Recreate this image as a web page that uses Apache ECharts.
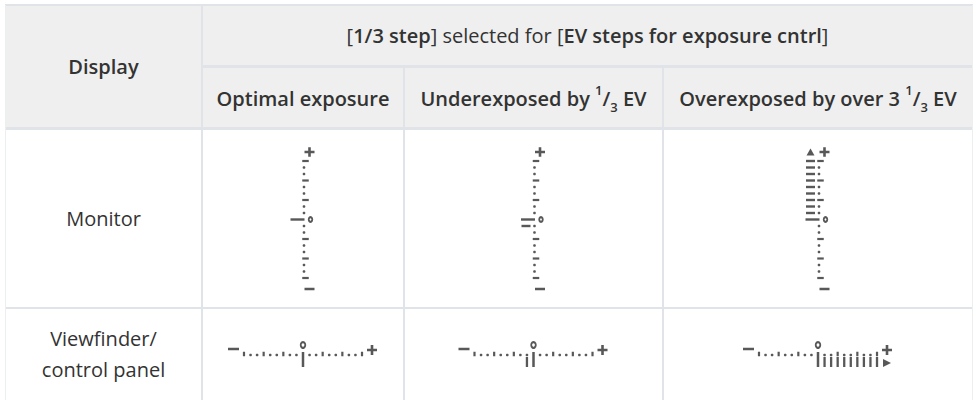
<!DOCTYPE html>
<html><head><meta charset="utf-8">
<script src="https://cdn.jsdelivr.net/npm/echarts@6/dist/echarts.min.js"></script>
<style>html,body{margin:0;padding:0;background:#fff}#c{width:974px;height:400px}</style>
</head><body><div id="c"></div>
<script>
// ---------------- data ----------------
const rowHeader = 'Display';
const groupHeader = '[{b|1/3 step}] selected for [{b|EV steps for exposure cntrl}]';
const columnHeaders = [
  'Optimal exposure',
  'Underexposed by {sup|1}/{sub|3} EV',
  'Overexposed by over 3 {sup|1}/{sub|3} EV'
];
const rowLabels = ['Monitor', 'Viewfinder/\ncontrol panel'];
// indicator scale positions, in thirds of an EV (-3 EV ... +3 EV)
const scaleThirds = [-9,-8,-7,-6,-5,-4,-3,-2,-1,0,1,2,3,4,5,6,7,8,9];
// lit indicator segments for each column, in thirds of an EV
const litThirds = [[0], [0,-1], [0,1,2,3,4,5,6,7,8,9]];
// "beyond range" arrow shown
const overRange = [false, false, true];

// ---------------- layout (style only) ----------------
const FONT = '"Open Sans", "Noto Sans", sans-serif';
const FS = 20;
const TXT = '#333333';
const INK = '#2e2e2e';
const LINE = '#e0e3e7';
const HEAD_BG = '#efefef';
const colEdges = [5, 202, 404, 663, 973];
const rowEdges = [5, 66.5, 128.5, 308, 400];
const colCenter = i => (colEdges[i + 1] + colEdges[i + 2]) / 2;
const MON_EV = 19.5, VF_EV = 19.67;
const PLUS = 'path://M3.7,0h2.6v3.7h3.7v2.6h-3.7v3.7h-2.6v-3.7h-3.7v-2.6h3.7z';

const grids = [], xAxes = [], yAxes = [], series = [];

function addMonitor(i) {
  const gi = grids.length;
  const T = colCenter(i) + 2.5;
  grids.push({left: T - 20, width: 40, top: 161 - MON_EV, height: MON_EV * 8});
  xAxes.push({gridIndex: gi, type: 'value', min: -1, max: 1, show: false});
  yAxes.push({gridIndex: gi, type: 'value', min: -4, max: 4, show: false});
  const ax = {xAxisIndex: gi, yAxisIndex: gi, silent: true, itemStyle: {color: INK}};
  const minor = scaleThirds.filter(t => t % 3 !== 0).map(t => [0, t / 3]);
  const major = scaleThirds.filter(t => t % 3 === 0 && t !== 0).map(t => [0, t / 3]);
  const lit = litThirds[i].filter(t => t !== 0).map(t => [0, t / 3]);
  const zero = litThirds[i].filter(t => t === 0).map(t => [0, 0]);
  const top = [[0, Math.max(...scaleThirds) / 3]];
  const bottom = [[0, Math.min(...scaleThirds) / 3]];
  series.push(
    Object.assign({type: 'scatter', data: minor, symbol: 'circle', symbolSize: 2.7, symbolOffset: [-1.5, 0]}, ax),
    Object.assign({type: 'scatter', data: major, symbol: 'rect', symbolSize: [6.5, 2.2]}, ax),
    Object.assign({type: 'scatter', data: lit, symbol: 'rect', symbolSize: [9, 2.4], symbolOffset: [-10, 0]}, ax),
    Object.assign({type: 'scatter', data: zero, symbol: 'rect', symbolSize: [14, 2.4], symbolOffset: [-8, 0]}, ax),
    Object.assign({type: 'scatter', data: [[0, 0]], symbol: 'emptyCircle', symbolSize: [3.6, 4.6], symbolOffset: [5, 0]}, ax,
      {itemStyle: {color: INK, borderColor: INK, borderWidth: 1.3}}),
    Object.assign({type: 'scatter', data: top, symbol: PLUS, symbolSize: [10, 9.5], symbolOffset: [4, -9]}, ax),
    Object.assign({type: 'scatter', data: bottom, symbol: 'rect', symbolSize: [10, 2.5], symbolOffset: [4, 11]}, ax)
  );
  if (overRange[i]) {
    series.push(Object.assign({type: 'scatter', data: top, symbol: 'triangle', symbolSize: [8, 7], symbolOffset: [-10, -9]}, ax));
  }
}

function addViewfinder(i) {
  const gi = grids.length;
  const Z = colCenter(i);
  const lineY = 354;
  grids.push({left: Z - 4 * VF_EV, width: 8 * VF_EV, top: lineY - 20, height: 40});
  xAxes.push({gridIndex: gi, type: 'value', min: -4, max: 4, show: false});
  yAxes.push({gridIndex: gi, type: 'value', min: -1, max: 1, show: false});
  const ax = {xAxisIndex: gi, yAxisIndex: gi, silent: true, itemStyle: {color: INK}};
  const minor = scaleThirds.filter(t => t % 3 !== 0).map(t => [t / 3, 0]);
  const major = scaleThirds.filter(t => t % 3 === 0 && t !== 0).map(t => [t / 3, 0]);
  const lit = litThirds[i].filter(t => t !== 0).map(t => [t / 3, 0]);
  const zero = litThirds[i].filter(t => t === 0).map(t => [0, 0]);
  const right = [[Math.max(...scaleThirds) / 3, 0]];
  const left = [[Math.min(...scaleThirds) / 3, 0]];
  series.push(
    Object.assign({type: 'scatter', data: minor, symbol: 'circle', symbolSize: 2.7, symbolOffset: [0, 1]}, ax),
    Object.assign({type: 'scatter', data: major, symbol: 'rect', symbolSize: [2.2, 4.5]}, ax),
    Object.assign({type: 'scatter', data: lit, symbol: 'rect', symbolSize: [2.3, 10], symbolOffset: [0, 8]}, ax),
    Object.assign({type: 'scatter', data: zero, symbol: 'rect', symbolSize: [2.5, 15], symbolOffset: [0, 5.5]}, ax),
    Object.assign({type: 'scatter', data: [[0, 0]], symbol: 'emptyCircle', symbolSize: [4.6, 5.6], symbolOffset: [0, -9]}, ax,
      {itemStyle: {color: INK, borderColor: INK, borderWidth: 1.5}}),
    Object.assign({type: 'scatter', data: right, symbol: PLUS, symbolSize: [10, 10], symbolOffset: [10, -4]}, ax),
    Object.assign({type: 'scatter', data: left, symbol: 'rect', symbolSize: [11, 2.5], symbolOffset: [-10.5, -5]}, ax)
  );
  if (overRange[i]) {
    series.push(Object.assign({type: 'scatter', data: right, symbol: 'triangle', symbolSize: [8, 8], symbolRotate: -90, symbolOffset: [10, 9]}, ax));
  }
}

for (let i = 0; i < columnHeaders.length; i++) addMonitor(i);
for (let i = 0; i < columnHeaders.length; i++) addViewfinder(i);

// ---------------- table graphics ----------------
function line(x1, y1, x2, y2, w, c) {
  return {type: 'line', silent: true, z: 1, shape: {x1, y1, x2, y2}, style: {stroke: c || LINE, lineWidth: w}};
}
function text(x, y, str, extra) {
  return {type: 'text', silent: true, z: 5, x, y,
    style: Object.assign({text: str, fill: TXT, fontFamily: FONT, fontSize: FS, fontWeight: 'normal',
      align: 'center', verticalAlign: 'middle'}, extra)};
}
const supsub = {
  sup: {fontFamily: FONT, fontSize: 13, fontWeight: 600, fill: TXT, verticalAlign: 'top', lineHeight: 20},
  sub: {fontFamily: FONT, fontSize: 13, fontWeight: 600, fill: TXT, verticalAlign: 'bottom', lineHeight: 20}
};
const L = colEdges[0], R = colEdges[4];
const graphic = [
  {type: 'rect', silent: true, z: 0, shape: {x: L, y: rowEdges[0], width: R - L, height: rowEdges[2] - rowEdges[0]}, style: {fill: HEAD_BG}},
  line(L, rowEdges[0], R, rowEdges[0], 2),
  line(colEdges[1], rowEdges[1], R, rowEdges[1], 3),
  line(L, rowEdges[2], R, rowEdges[2], 3),
  line(L, rowEdges[3], R, rowEdges[3], 2),
  line(colEdges[1], rowEdges[0], colEdges[1], rowEdges[4], 2),
  line(colEdges[2], rowEdges[1], colEdges[2], rowEdges[4], 2),
  line(colEdges[3], rowEdges[1], colEdges[3], rowEdges[4], 2),
  line(L + 0.5, rowEdges[0], L + 0.5, rowEdges[4], 1, '#eceef0'),
  line(R - 0.5, rowEdges[0], R - 0.5, rowEdges[4], 1, '#eceef0'),
  text((colEdges[0] + colEdges[1]) / 2, (rowEdges[0] + rowEdges[2]) / 2, rowHeader, {fontWeight: 600}),
  text((colEdges[1] + colEdges[4]) / 2, (rowEdges[0] + rowEdges[1]) / 2, groupHeader,
    {rich: {b: {fontFamily: FONT, fontSize: FS, fontWeight: 600, fill: TXT}}}),
  text((colEdges[0] + colEdges[1]) / 2, (rowEdges[2] + rowEdges[3]) / 2, rowLabels[0]),
  text((colEdges[0] + colEdges[1]) / 2, (rowEdges[3] + rowEdges[4]) / 2, rowLabels[1], {lineHeight: 31})
];
columnHeaders.forEach((h, i) => {
  graphic.push(text(colCenter(i), (rowEdges[1] + rowEdges[2]) / 2 + 0.5, h,
    {fontWeight: 600, lineHeight: 30, rich: supsub}));
});

const chart = echarts.init(document.getElementById('c'), null, {renderer: 'svg'});
chart.setOption({
  animation: false,
  backgroundColor: '#ffffff',
  grid: grids, xAxis: xAxes, yAxis: yAxes,
  series: series,
  graphic: graphic
});
</script>
</body></html>
